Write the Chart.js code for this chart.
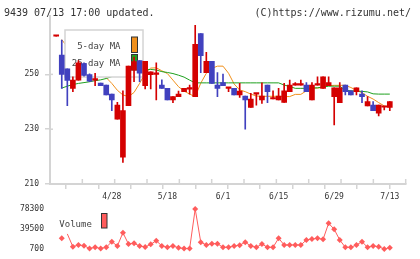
<!DOCTYPE html>
<html><head><meta charset="utf-8">
<script src="https://cdn.jsdelivr.net/npm/chart.js@4/dist/chart.umd.min.js"></script>
<style>
html,body{margin:0;padding:0;background:#fff;}
#wrap{position:relative;width:420px;height:259px;overflow:hidden;font-family:"DejaVu Sans Mono",monospace;}
.hdr{position:absolute;top:7px;font-size:10px;color:#333;line-height:12px;white-space:pre;}
#main{position:absolute;left:0;top:0;}
#vol{position:absolute;left:0;top:190px;}
</style></head><body>
<div id="wrap">
<canvas id="main" width="420" height="190"></canvas>
<canvas id="vol" width="420" height="69"></canvas>
<div class="hdr" style="left:4px">9439 07/13 17:00 updated.</div>
<div class="hdr" style="right:9px">(C)https://www.rizumu.net/</div>
</div>
<script>
// ---- data (index 0 = 4/14 ... index 60 = 7/13) ----
const dateLabels   = ['4/28','5/18','6/1','6/15','6/29','7/13'];
const dateLabelIdx = [10, 20, 30, 40, 50, 60];
const priceTicks   = [210, 230, 250];
const volumeTicks  = [700, 39500, 78300];

const open  = [263.9,257,252,244.9,247.9,253.9,249.9,247.9,246.8,246.1,
               242.8,233.7,219.8,238.6,251.5,255,245.9,249.9,250,246.1,
               244.9,240.7,241.9,243.7,244.6,241.9,264.9,250.6,254.8,246.1,
               247,244.9,244.9,242.5,242.1,237.9,242.8,240.7,246.1,241,
               240.7,239.8,243.7,246.1,246.1,246.1,240.7,246.1,244.9,245.9,
               241.9,239.7,246.1,244,243.7,242.8,238.5,238.8,235.8,238,237.9];
const high  = [263.9,262.5,252,249.1,255,254.2,250.2,250.4,246.8,246.1,
               242.8,239.8,244,253,256.3,255,254.8,250.9,254.2,248,
               244.9,241.9,243.9,244.9,246.1,267.9,264.9,258,254.8,250.7,
               250.1,244.9,244.9,246.7,242.1,243.1,242.8,246.9,246.1,244,
               244.9,246.7,247.9,247,247.9,247,247,249.1,249.1,249.1,
               245.1,247,246.1,244,245.1,244,241.9,240.1,238.8,238,240.1];
const low   = [263.9,244.9,238.6,243.7,247.9,249.3,247.3,245.9,245.9,242.5,
               236.8,233.7,217.9,238.6,247.3,247.3,244.7,244.7,240.7,244.9,
               240.7,239.7,241.9,243.7,242.8,241.9,250.6,250.6,246.7,241.9,
               245.9,243.7,242.5,241.6,230,237.9,238.8,239.4,239.7,241,
               240.7,239.8,243.7,246.1,246.1,243.7,240.7,246.1,244.9,245.9,
               231.6,239.7,242.5,242.5,242.5,239.7,238.5,236.8,234.8,237,236.8];
const close = [263.9,250,247.8,247.9,254.2,249.6,247.5,247.9,245.9,242.5,
               240.7,238.8,236.8,253,254.7,250.4,254.8,250.9,250,244.9,
               240.7,241.9,242.8,244.9,244.6,261,256.8,254.8,246.7,244.9,
               245.9,244.9,242.5,243.9,240.7,241,242.8,242.1,243.7,241,
               242.1,244,246.1,246.1,246.1,243.7,246.1,246.1,249.1,247,
               245.1,245.1,243.7,242.5,245.1,241.9,240.1,236.8,238.8,238,240.1];
const ma5   = [null,262.7,260,258,256.5,255.5,254.5,253.5,252.5,248.8,
               246.7,244.2,242.5,241.9,243.4,246.7,250.4,252.3,252.4,251.3,
               250.3,247.9,245.5,243.9,242.8,241.9,246.8,250.4,252.2,253,
               253,250.4,246.5,244.3,243.7,242.8,242.1,242,242,242,
               242,241.9,241.9,242.7,242.7,244,245,245,245.3,245.9,
               246,246,246,245.2,244.2,243.3,242,241,239.7,238.5,238];
const ma25  = [null,245,245.7,246.3,246.7,247,247.3,247.7,248,248.5,
               249.2,249.8,250.3,250.8,251.2,251.6,251.7,251.8,251.6,251,
               250.7,250.3,249.7,249,247.9,246.9,246.9,246.9,246.9,246.9,
               246.9,246.9,246.9,246.9,246.9,246.9,246.9,246.9,246.9,246.9,
               246.9,246.1,245.6,244.9,244.9,244.9,245,245.1,245.4,245.7,
               245.7,245.7,244.2,244,243.9,243.8,243.6,242.9,242.8,242.8,242.8];
const volume = [null,21500,30000,5200,8500,7100,1800,4000,1800,4000,
               14900,6500,32300,10400,11800,6500,4600,9800,16800,6500,
               4000,6500,3200,1500,1500,78300,14000,8500,11000,11000,
               4000,4000,6500,8000,14000,6500,4000,10400,4000,4000,
               21500,8500,8500,8500,8500,18200,20100,21500,19500,50600,
               38900,18200,4000,4000,8500,14900,4000,6500,5200,700,3200];

// ---- styling / layout ----
const RED = '#d40000', BLUE = '#4141bf', ORANGE = '#f0901c', GREEN = '#1ea01e';
const VOLC = '#ff5c5c', AXIS = '#d4d4d4', TXT = '#333';
const MONO = '"DejaVu Sans Mono", monospace';
const xMin = -1.115, xMax = 62.86;

const idx = close.map((_, i) => i);
const candleCol = idx.map(i => close[i] >= open[i] ? RED : BLUE);
const noPad = s => { s.paddingTop = 0; s.paddingBottom = 0; s.paddingLeft = 0; s.paddingRight = 0; };

const innerTicks = {
  id: 'innerTicks',
  beforeDatasetsDraw(chart) {
    const ctx = chart.ctx, a = chart.chartArea, xs = chart.scales.x, ys = chart.scales.y;
    ctx.save(); ctx.strokeStyle = AXIS; ctx.lineWidth = 1.5;
    xs.ticks.forEach(t => { const p = xs.getPixelForValue(t.value);
      ctx.beginPath(); ctx.moveTo(p, a.bottom); ctx.lineTo(p, a.bottom - 5); ctx.stroke(); });
    ys.ticks.forEach(t => { const p = ys.getPixelForValue(t.value);
      ctx.beginPath(); ctx.moveTo(a.left, p); ctx.lineTo(a.left + 3, p); ctx.stroke(); });
    ctx.restore();
  }
};

const maLegend = {
  id: 'maLegend',
  beforeDatasetDraw(chart, args) {
    if (args.index !== 2) return;
    const ctx = chart.ctx;
    ctx.save();
    ctx.fillStyle = '#fff'; ctx.fillRect(65, 30, 78, 47);
    ctx.strokeStyle = AXIS; ctx.lineWidth = 1.5; ctx.strokeRect(65, 30, 78, 47);
    ctx.font = '9px ' + MONO; ctx.fillStyle = '#444'; ctx.textAlign = 'right'; ctx.textBaseline = 'alphabetic';
    ctx.fillText('5-day MA', 120.5, 48.5);
    ctx.fillText('25-day MA', 120.5, 65.5);
    ctx.lineWidth = 1; ctx.strokeStyle = '#333';
    ctx.fillStyle = ORANGE; ctx.fillRect(131.5, 37, 6, 15.5); ctx.strokeRect(131.5, 37, 6, 15.5);
    ctx.fillStyle = GREEN;  ctx.fillRect(131.5, 54.5, 6, 15.5); ctx.strokeRect(131.5, 54.5, 6, 15.5);
    ctx.restore();
  }
};

new Chart(document.getElementById('main'), {
  type: 'bar',
  data: { datasets: [
    { type: 'line', label: '5-day MA', data: idx.map(i => ({x: i, y: ma5[i]})),
      borderColor: ORANGE, borderWidth: 1, pointRadius: 0, order: 4, spanGaps: false },
    { type: 'line', label: '25-day MA', data: idx.map(i => ({x: i, y: ma25[i]})),
      borderColor: GREEN, borderWidth: 1, pointRadius: 0, order: 3, spanGaps: false },
    { type: 'bar', label: 'wick', data: idx.map(i => ({x: i, y: [low[i], high[i]]})),
      backgroundColor: candleCol, barThickness: 1, grouped: false, minBarLength: 1, order: 2 },
    { type: 'bar', label: 'body', data: idx.map(i => ({x: i, y: [open[i], close[i]]})),
      backgroundColor: candleCol, barThickness: 5, grouped: false, minBarLength: 1.5, order: 1 }
  ]},
  options: {
    responsive: false, animation: false, devicePixelRatio: 1,
    layout: { autoPadding: false, padding: { left: 0, right: 14.3, top: 16, bottom: 0 } },
    plugins: { legend: { display: false }, tooltip: { enabled: false } },
    scales: {
      x: { type: 'linear', min: xMin, max: xMax, offset: false,
        afterBuildTicks: s => { const n = 11; s.ticks = Array.from({length: n + 1}, (_, k) => ({ value: s.min + k * (s.max - s.min) / n })); },
        afterFit: s => { s.height = 6; noPad(s); },
        ticks: { display: false },
        grid: { drawOnChartArea: false, drawTicks: true, tickLength: 5, color: AXIS, lineWidth: 1.5 },
        border: { color: AXIS, width: 2 } },
      y: { type: 'linear', min: 210, max: 271.3,
        afterBuildTicks: s => { s.ticks = priceTicks.map(v => ({ value: v })); },
        afterFit: s => { s.width = 50; noPad(s); },
        ticks: { font: { family: MONO, size: 8 }, color: TXT, padding: 6, callback: v => String(v) },
        grid: { drawOnChartArea: false, drawTicks: true, tickLength: 5, color: AXIS, lineWidth: 1.5 },
        border: { color: AXIS, width: 2 } }
    }
  },
  plugins: [innerTicks, maLegend]
});

const volLegend = {
  id: 'volLegend',
  afterDraw(chart) {
    const ctx = chart.ctx;
    ctx.save();
    ctx.font = '9px ' + MONO; ctx.fillStyle = '#444'; ctx.textAlign = 'left'; ctx.textBaseline = 'alphabetic';
    ctx.fillText('Volume', 59.3, 36.5);
    ctx.fillStyle = VOLC; ctx.strokeStyle = '#333'; ctx.lineWidth = 1;
    ctx.fillRect(101.5, 23.5, 5.5, 14.5); ctx.strokeRect(101.5, 23.5, 5.5, 14.5);
    ctx.restore();
  }
};

new Chart(document.getElementById('vol'), {
  type: 'line',
  data: { datasets: [
    { label: 'Volume', data: idx.map(i => ({x: i, y: volume[i]})),
      borderColor: VOLC, borderWidth: 1, backgroundColor: VOLC,
      pointStyle: 'rectRot', pointRadius: c => c.dataIndex === 2 ? 0 : 3, pointBorderWidth: 0,
      pointBackgroundColor: VOLC, spanGaps: false, clip: false,
      segment: { borderColor: c => c.p0DataIndex === 1 ? 'rgba(0,0,0,0)' : undefined } }
  ]},
  options: {
    responsive: false, animation: false, devicePixelRatio: 1,
    layout: { autoPadding: false, padding: { left: 0, right: 14.3, top: 0, bottom: 4 } },
    plugins: { legend: { display: false }, tooltip: { enabled: false } },
    scales: {
      x: { type: 'linear', position: 'top', min: xMin, max: xMax,
        afterBuildTicks: s => { s.ticks = dateLabelIdx.map(v => ({ value: v })); },
        afterFit: s => { s.height = 13; noPad(s); },
        ticks: { font: { family: MONO, size: 8 }, color: TXT, padding: 1, maxRotation: 0, autoSkip: false,
                 callback: (v, i) => dateLabels[i] },
        grid: { display: false, drawTicks: false }, border: { display: false } },
      y: { type: 'linear', min: -10940, max: 89940,
        afterBuildTicks: s => { s.ticks = volumeTicks.map(v => ({ value: v })); },
        afterFit: s => { s.width = 50; noPad(s); },
        ticks: { font: { family: MONO, size: 8 }, color: TXT, padding: 6, callback: v => String(v) },
        grid: { display: false, drawTicks: false }, border: { display: false } }
    }
  },
  plugins: [volLegend]
});
</script>
</body></html>
